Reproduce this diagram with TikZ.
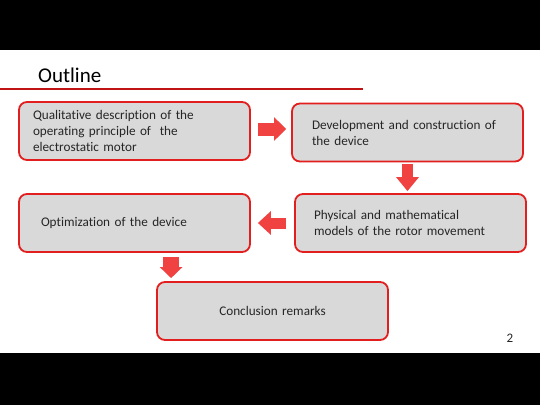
\documentclass[tikz,border=0pt]{standalone}
\usepackage{fontspec}
\setmainfont[Ligatures=NoCommon]{Carlito}
\usetikzlibrary{arrows.meta,calc}
\definecolor{boxred}{RGB}{226,30,30}
\definecolor{arrred}{RGB}{240,66,64}
\definecolor{boxgray}{RGB}{217,217,217}
\definecolor{titlered}{RGB}{192,20,20}
\definecolor{txt}{RGB}{38,38,38}
\begin{document}
\begin{tikzpicture}[x=1pt,y=-1pt,
  box/.style={draw=boxred, line width=1.8pt, fill=boxgray, rounded corners=8pt,
    minimum height=58pt, align=left, inner xsep=20pt, text width=191pt,
    font=\fontsize{13.2}{16}\selectfont, text=txt}]
\useasboundingbox (0,0) rectangle (540,405);
\fill[white] (0,0) rectangle (540,405);
\fill[black] (0,0) rectangle (540,50);
\fill[black] (0,353) rectangle (540,405);
\node[anchor=base west, font=\fontsize{21}{25}\selectfont, inner sep=0pt] (title) at (38,82) {Outline};
\coordinate (tl) at (0,89);
\coordinate (tr) at (363,89);
\draw[titlered, line width=1.2pt] (tl) -- (tr);

\node[box, inner xsep=14pt, text width=203pt] (b1) at (134.5,131) {Qualitative description of the\\operating principle of~ the\\electrostatic motor};
\node[box] (b2) at (407.5,132.5) {Development and construction of\\the device};
\node[box, inner xsep=22pt, text width=187pt] (b3) at (134.5,223) {Optimization of the device};
\node[box, inner xsep=19pt, text width=193pt] (b4) at (410.5,223) {Physical and mathematical\\models of the rotor movement};
\node[box, align=center] (b5) at (272.5,311) {Conclusion remarks};
\node[anchor=base, font=\fontsize{13}{16}\selectfont, text=txt, inner sep=0pt] (pg) at (510,342) {2};

\draw[arrred, line width=13pt, -{Triangle[length=12pt,width=23pt]}, shorten <=7pt, shorten >=5pt]
  ([yshift=2pt]b1.east) -- ([yshift=2pt]b1.east -| b2.west);
\draw[arrred, line width=11pt, -{Triangle[length=14pt,width=22pt]}, shorten <=2pt, shorten >=2pt]
  (b2.south) -- (b2.south |- b4.north);
\draw[arrred, line width=11pt, -{Triangle[length=13pt,width=23pt]}, shorten <=8pt, shorten >=7pt]
  (b4.west) -- (b4.west -| b3.east);
\draw[arrred, line width=16pt, -{Triangle[length=11pt,width=22pt]}, shorten <=4pt, shorten >=3pt]
  ([xshift=15pt]b5.north west |- b3.south) -- ([xshift=15pt]b5.north west);
\end{tikzpicture}
\end{document}
